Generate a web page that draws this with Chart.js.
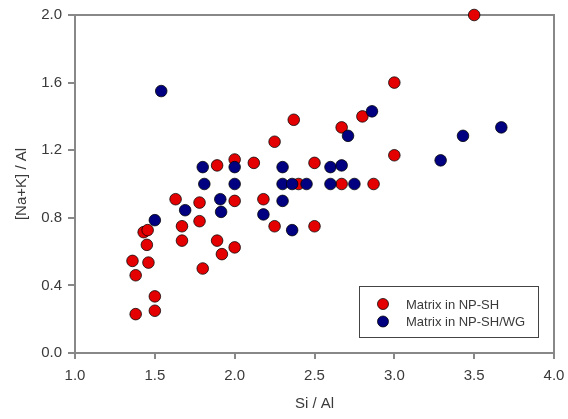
<!DOCTYPE html>
<html>
<head>
<meta charset="utf-8">
<script src="https://cdn.jsdelivr.net/npm/chart.js@4/dist/chart.umd.min.js"></script>
<style>
  html, body { margin: 0; padding: 0; background: #ffffff; }
  canvas { display: block; }
</style>
</head>
<body>
<canvas id="c" width="568" height="419"></canvas>
<script>
// ---- data ----
const seriesNames = ["Matrix in NP-SH", "Matrix in NP-SH/WG"];

const redX = [3.50, 3.00, 2.80, 2.37, 2.67, 2.25, 3.00, 2.00, 2.12, 1.89, 2.50, 2.40, 2.67, 2.87,
              1.63, 1.78, 2.00, 2.18, 1.43, 1.455, 1.67, 1.78, 2.25, 2.50, 1.45, 1.67, 1.89, 1.92,
              2.00, 1.80, 1.36, 1.46, 1.38, 1.50, 1.50, 1.38];
const redY = [2.00, 1.60, 1.40, 1.38, 1.335, 1.25, 1.17, 1.145, 1.125, 1.11, 1.125, 1.00, 1.00, 1.00,
              0.91, 0.89, 0.90, 0.91, 0.715, 0.727, 0.75, 0.78, 0.75, 0.75, 0.64, 0.665, 0.665, 0.585,
              0.625, 0.50, 0.545, 0.535, 0.46, 0.335, 0.25, 0.23];

const blueX = [1.54, 2.86, 2.71, 3.43, 3.67, 3.29, 1.80, 2.00, 2.30, 2.60, 2.67, 1.81, 2.00, 2.30,
               2.36, 2.45, 2.60, 2.75, 1.91, 2.30, 1.69, 1.915, 2.18, 2.36, 1.50];
const blueY = [1.55, 1.43, 1.285, 1.285, 1.335, 1.14, 1.10, 1.10, 1.10, 1.10, 1.11, 1.00, 1.00, 1.00,
               1.00, 1.00, 1.00, 1.00, 0.91, 0.90, 0.845, 0.835, 0.82, 0.727, 0.786];

const xTicks = [1.0, 1.5, 2.0, 2.5, 3.0, 3.5, 4.0];
const yTicks = [0.0, 0.4, 0.8, 1.2, 1.6, 2.0];
const xTitle = "Si / Al";
const yTitle = "[Na+K] / Al";

// ---- styles ----
const RED = "#e40000";
const BLUE = "#000080";
const AXIS = "#888888";
const TEXT = "#3a3a3a";
const FONT = "'Liberation Sans', Arial, sans-serif";

function toPoints(xs, ys) { return xs.map((x, i) => ({ x: x, y: ys[i] })); }

const framePlugin = {
  id: 'frame',
  beforeDatasetsDraw(chart) {
    const a = chart.chartArea, ctx = chart.ctx;
    ctx.save();
    ctx.strokeStyle = AXIS;
    ctx.lineWidth = 2;
    ctx.beginPath();
    ctx.moveTo(a.left, a.top);
    ctx.lineTo(a.right, a.top);
    ctx.lineTo(a.right, a.bottom);
    ctx.stroke();
    ctx.restore();
  }
};

const legendPlugin = {
  id: 'boxLegend',
  afterDraw(chart) {
    const ctx = chart.ctx;
    const x0 = 359, y0 = 286, w = 179, h = 51;
    ctx.save();
    ctx.fillStyle = "#ffffff";
    ctx.fillRect(x0, y0, w, h);
    ctx.strokeStyle = "#444444";
    ctx.lineWidth = 1;
    ctx.strokeRect(x0 + 0.5, y0 + 0.5, w, h);
    const colors = [RED, BLUE];
    ctx.font = "13px " + FONT;
    ctx.textBaseline = "middle";
    ctx.textAlign = "left";
    seriesNames.forEach((name, i) => {
      const cy = y0 + 18 + i * 17.5;
      ctx.beginPath();
      ctx.arc(x0 + 24, cy, 5.5, 0, Math.PI * 2);
      ctx.fillStyle = colors[i];
      ctx.fill();
      ctx.strokeStyle = "rgba(0,0,0,0.75)";
      ctx.stroke();
      ctx.fillStyle = TEXT;
      ctx.fillText(name, x0 + 47, cy + 1);
    });
    ctx.restore();
  }
};

new Chart(document.getElementById('c'), {
  type: 'scatter',
  data: {
    datasets: [
      {
        label: seriesNames[0],
        data: toPoints(redX, redY),
        backgroundColor: RED,
        borderColor: "rgba(0,0,0,0.75)",
        borderWidth: 1,
        pointRadius: 5.8,
        pointHoverRadius: 5.8,
        order: 2,
        clip: false
      },
      {
        label: seriesNames[1],
        data: toPoints(blueX, blueY),
        backgroundColor: BLUE,
        borderColor: "rgba(0,0,0,0.75)",
        borderWidth: 1,
        pointRadius: 5.8,
        pointHoverRadius: 5.8,
        order: 1,
        clip: false
      }
    ]
  },
  options: {
    responsive: false,
    animation: false,
    events: [],
    layout: { padding: { left: 0, right: 14, top: 15, bottom: 0 } },
    plugins: {
      legend: { display: false },
      tooltip: { enabled: false }
    },
    scales: {
      x: {
        type: 'linear',
        min: 1.0, max: 4.0,
        afterBuildTicks(scale) { scale.ticks = xTicks.map(v => ({ value: v })); },
        afterFit(scale) { scale.height = 66; scale.paddingLeft = 0; scale.paddingRight = 0; },
        ticks: {
          color: TEXT,
          font: { family: FONT, size: 15 },
          padding: 8,
          maxRotation: 0,
          callback: v => Number(v).toFixed(1)
        },
        grid: { drawOnChartArea: false, drawTicks: true, tickLength: 6, color: AXIS, lineWidth: 2 },
        border: { display: true, color: AXIS, width: 2 },
        title: {
          display: true, text: xTitle, color: TEXT,
          font: { family: FONT, size: 15 },
          padding: { top: 0, bottom: 6 }
        }
      },
      y: {
        type: 'linear',
        min: 0.0, max: 2.0,
        afterBuildTicks(scale) { scale.ticks = yTicks.map(v => ({ value: v })); },
        afterFit(scale) { scale.width = 75; scale.paddingTop = 0; scale.paddingBottom = 0; },
        ticks: {
          color: TEXT,
          font: { family: FONT, size: 15 },
          padding: 6,
          callback: v => Number(v).toFixed(1)
        },
        grid: { drawOnChartArea: false, drawTicks: true, tickLength: 7, color: AXIS, lineWidth: 2 },
        border: { display: true, color: AXIS, width: 2 },
        title: {
          display: true, text: yTitle, color: TEXT,
          font: { family: FONT, size: 15 },
          padding: { top: 13, bottom: 0 }
        }
      }
    }
  },
  plugins: [framePlugin, legendPlugin]
});
</script>
</body>
</html>
